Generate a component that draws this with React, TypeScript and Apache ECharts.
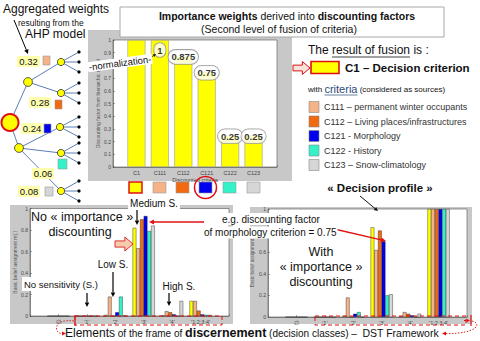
import React, { useEffect, useRef } from "react";
import * as echarts from "echarts";

const FONT = "'Liberation Sans', Arial, Helvetica, sans-serif";

// ---------- top chart: importance weights derived into discounting factors
const criteriaCategories = ["C1", "C111", "C112", "C121", "C122", "C123"];
const discountingFactors = [1, 1, 0.875, 0.75, 0.25, 0.25];
const factorLabels = ["", "1", "0.875", "0.75", "0.25", "0.25"];

// AHP aggregated weights (tree labels)
const ahpWeights = ["0.32", "0.28", "0.24", "0.06", "0.08"];

// ---------- sources / colours
const sourceColors = ["#FFFF00", "#F6B387", "#F26A10", "#0000EE", "#33F2C8", "#D6D6D6"];
const legendLabels = [
  "C111 – permanent winter occupants",
  "C112 – Living places/infrastructures",
  "C121 - Morphology",
  "C122 - History",
  "C123 – Snow-climatology",
];

// ---------- bottom charts: frame of discernement
const frameCategories = ["∅", "'1'", "'2'", "'3'", "'4'", "'1;2;3;4'"];

// No importance discounting (one array per source, one value per frame element)
const noDiscC1 = [0, 0, 0.01, 0.82, 0.005, 0.14];
const noDiscC111 = [0, 0, 0.18, 0.63, 0.045, 0.14];
const noDiscC112 = [0, 0, 0.0, 0.9, 0.035, 0.05];
const noDiscC121 = [0, 0, 0.035, 0.93, 0.015, 0.015];
const noDiscC122 = [0, 0, 0.18, 0.79, 0.0, 0.01];
const noDiscC123 = [0, 0, 0.005, 0.84, 0.14, 0.01];

// With importance discounting
const discC1 = [0, 0, 0.01, 0.83, 0.005, 1];
const discC111 = [0, 0, 0.18, 0.62, 0.045, 1];
const discC112 = [0, 0, 0.0, 0.8, 0.03, 1];
const discC121 = [0, 0, 0.03, 0.7, 0.015, 1];
const discC122 = [0, 0, 0.045, 0.2, 0.0, 1];
const discC123 = [0, 0, 0.0, 0.21, 0.03, 1];

const noDiscSeries = [noDiscC1, noDiscC111, noDiscC112, noDiscC121, noDiscC122, noDiscC123];
const discSeries = [discC1, discC111, discC112, discC121, discC122, discC123];

function textWidth(text: string, font: string): number {
  const ctx = document.createElement("canvas").getContext("2d");
  if (!ctx) return text.length * 6;
  ctx.font = font;
  return ctx.measureText(text).width;
}

function arrow(x1: number, y1: number, x2: number, y2: number, color = "#000", width = 1, head = 4.5): any[] {
  const a = Math.atan2(y2 - y1, x2 - x1);
  const hx = x2 - head * Math.cos(a);
  const hy = y2 - head * Math.sin(a);
  const px = -Math.sin(a) * head * 0.5;
  const py = Math.cos(a) * head * 0.5;
  return [
    { type: "line", z: 120, shape: { x1, y1, x2: hx, y2: hy }, style: { stroke: color, lineWidth: width } },
    { type: "polygon", z: 120, shape: { points: [[x2, y2], [hx + px, hy + py], [hx - px, hy - py]] }, style: { fill: color } },
  ];
}

function blockArrow(x0: number, x1: number, cy: number, h: number, fill: string, stroke: string): any {
  const m = x0 + (x1 - x0) * 0.55;
  return {
    type: "polygon",
    z: 120,
    shape: {
      points: [
        [x0, cy - h * 0.22], [m, cy - h * 0.22], [m, cy - h * 0.5], [x1, cy],
        [m, cy + h * 0.5], [m, cy + h * 0.22], [x0, cy + h * 0.22],
      ],
    },
    style: { fill, stroke, lineWidth: 1 },
  };
}

function txt(text: string, x: number, y: number, size: number, extra: any = {}): any {
  return {
    type: "text",
    z: 130,
    style: {
      text, x, y, fontSize: size, fontFamily: FONT, fill: "#111",
      align: "left", verticalAlign: "middle", ...extra,
    },
  };
}

function rect(x: number, y: number, w: number, h: number, style: any, z = 110): any {
  return { type: "rect", z, shape: { x, y, width: w, height: h }, style };
}

function buildGraphics(): any[] {
  const g: any[] = [];
  // gray panels (MATLAB figure backgrounds)
  g.push(rect(88, 30, 204, 151, { fill: "#C8C8C8" }, -10));
  g.push(rect(10, 205, 223, 119, { fill: "#C8C8C8" }, -10));
  g.push(rect(250, 207, 222, 117, { fill: "#C8C8C8" }, -10));

  // title box
  g.push(rect(120, 7, 324, 30, { fill: "#fff", stroke: "#A8A8A8", lineWidth: 1 }, 105));
  g.push(txt("{b|Importance weights} derived into {b|discounting factors}", 287, 16, 10.5, {
    align: "center",
    rich: { b: { fontWeight: "bold", fontSize: 10.5, fontFamily: FONT, fill: "#111" } },
  }));
  g.push(txt("(Second level of fusion of criteria)", 279, 28.5, 10.5, { align: "center" }));

  // top-left texts
  g.push(txt("Aggregated weights", 3, 9, 12));
  g.push(txt("resulting from the", 18, 23, 8.5));
  g.push(txt("AHP model", 25, 34, 12));
  g.push(...arrow(14, 20, 28, 54, "#000", 1));

  // tree
  const lineStyle = { stroke: "#5C7FB8", lineWidth: 1 };
  const root = [10, 122.5];
  const lvl2 = [[28, 82], [19, 148]];
  const lvl3 = [[61, 62], [61, 93], [60, 127], [61, 153], [61, 191]];
  const parentOf = [0, 0, 1, 1, 1];
  lvl2.forEach((p) => g.push({ type: "line", z: 50, shape: { x1: root[0], y1: root[1], x2: p[0], y2: p[1] }, style: lineStyle }));
  lvl3.forEach((p, i) => {
    const par = lvl2[parentOf[i]];
    g.push({ type: "line", z: 50, shape: { x1: par[0], y1: par[1], x2: p[0], y2: p[1] }, style: lineStyle });
    [-10, 0, 10].forEach((d) => {
      g.push({ type: "line", z: 50, shape: { x1: p[0], y1: p[1], x2: 79, y2: p[1] + d }, style: lineStyle });
      g.push({ type: "circle", z: 52, shape: { cx: 79, cy: p[1] + d, r: 1.6 }, style: { fill: "#000" } });
    });
  });
  lvl3.forEach((p) => g.push({ type: "circle", z: 55, shape: { cx: p[0], cy: p[1], r: 3.6 }, style: { fill: "#FFFF00", stroke: "#333", lineWidth: 0.8 } }));
  lvl2.forEach((p) => g.push({ type: "circle", z: 55, shape: { cx: p[0], cy: p[1], r: 4.4 }, style: { fill: "#FFFF00", stroke: "#333", lineWidth: 0.8 } }));
  g.push({ type: "circle", z: 55, shape: { cx: root[0], cy: root[1], r: 8.5 }, style: { fill: "#FFFF00", stroke: "#E01010", lineWidth: 2 } });

  // weight labels with their colour squares
  const wBoxes = [
    { x: 17, y: 56, w: 23, sq: [43, 56, 7, 9] },
    { x: 29, y: 97, w: 22, sq: [55, 100, 7, 9] },
    { x: 21, y: 123, w: 22, sq: [44, 124, 7, 9] },
    { x: 32, y: 168, w: 22, sq: [58, 159, 9, 10] },
    { x: 18, y: 186, w: 22, sq: [45, 187, 8, 9] },
  ];
  wBoxes.forEach((b, i) => {
    g.push(rect(b.x, b.y, b.w, 11, { fill: "#FFFFB0" }, 60));
    g.push(txt(ahpWeights[i], b.x + b.w / 2, b.y + 5.8, 9.5, { align: "center" }));
    g.push(rect(b.sq[0], b.sq[1], b.sq[2], b.sq[3], { fill: sourceColors[i + 1], stroke: "#999", lineWidth: 0.6 }, 60));
  });

  // normalization
  g.push({
    type: "text", z: 130, x: 120, y: 63, rotation: 0.13,
    style: {
      text: "-normalization-", x: 0, y: 0, fontSize: 9.5, fontFamily: FONT, fill: "#111",
      align: "center", verticalAlign: "middle", backgroundColor: "#fff", padding: [0, 1],
    },
  });
  g.push(...arrow(150, 58, 156, 54, "#111", 0.8, 3));

  // colour squares row below top chart
  const sqX = [129, 153, 176, 199, 223, 247];
  sqX.forEach((x, i) => {
    g.push(rect(x, 182, 13, 11, {
      fill: sourceColors[i],
      stroke: i === 0 ? "#E01010" : "#9a9a9a",
      lineWidth: i === 0 ? 1.5 : 0.6,
    }, 60));
  });
  g.push({ type: "circle", z: 61, shape: { cx: 205.5, cy: 187.5, r: 11 }, style: { fill: "none", stroke: "#E01010", lineWidth: 1.5 } });

  // right panel texts
  const f12 = `12px ${FONT}`;
  const rx = 308;
  g.push(txt("The {u|result of fusion} is :", rx, 50, 12, { rich: { u: { fontSize: 12, fontFamily: FONT, fill: "#111" } } }));
  const ux0 = rx + textWidth("The ", f12);
  const ux1 = ux0 + textWidth("result of fusion", f12);
  g.push({ type: "line", z: 130, shape: { x1: ux0, y1: 57, x2: ux1, y2: 57 }, style: { stroke: "#111", lineWidth: 0.8 } });
  g.push(blockArrow(293, 310, 68, 13, "#F6E4DC", "#E01010"));
  g.push(rect(311, 61.5, 28, 12, { fill: "#FFFF00", stroke: "#E01010", lineWidth: 1.6 }, 120));
  g.push(txt("C1 – Decision criterion", 345, 67.5, 11.5, { fontWeight: "bold" }));
  g.push(txt("with {c|criteria} (considered as sources)", rx, 89, 8, {
    rich: { c: { fontSize: 11, fontFamily: FONT, fill: "#2A4A7A" } },
  }));
  const cx0 = rx + textWidth("with ", `8px ${FONT}`);
  const cx1 = cx0 + textWidth("criteria", `11px ${FONT}`);
  g.push({ type: "line", z: 130, shape: { x1: cx0, y1: 95, x2: cx1, y2: 95 }, style: { stroke: "#2A4A7A", lineWidth: 0.7 } });
  const legY = [107, 121.5, 136, 150.5, 165];
  legendLabels.forEach((l, i) => {
    g.push(rect(309, legY[i] - 5.5, 10, 11, { fill: sourceColors[i + 1], stroke: "#888", lineWidth: 0.6 }, 120));
    g.push(txt(l, 324, legY[i], 9, { fill: "#333" }));
  });
  g.push(txt("« Decision profile »", 380, 188, 11.5, { fontWeight: "bold", align: "center" }));
  g.push(...arrow(360, 196, 378, 211, "#111", 1, 4));

  // bottom-left annotations
  g.push(txt("No « importance »", 31, 217, 12.5));
  g.push(txt("discounting", 80, 232, 12.5, { align: "center" }));
  g.push(txt("Medium S.", 154, 203.5, 10, { align: "center", backgroundColor: "#fff", padding: [1, 2] }));
  g.push(...arrow(137, 210, 137, 225, "#000", 1.2, 4.5));
  g.push(blockArrow(115, 133, 244, 14, "#F8CBAD", "#E03030"));
  g.push(txt("Low S.", 113, 264, 10, { align: "center" }));
  g.push(...arrow(113, 272, 113, 297, "#000", 1.2, 4.5));
  g.push(txt("No sensitivity (S.)", 22, 284, 9.5, { backgroundColor: "#fff", padding: [2, 2] }));
  g.push(...arrow(87, 293, 87, 307, "#000", 1.2, 4.5));
  g.push(txt("High S.", 179, 286, 10, { align: "center" }));
  g.push(...arrow(169, 293, 169, 306, "#000", 1.2, 4.5));

  // e.g. discounting factor annotation
  g.push(txt("e.g. discounting factor", 221, 219, 10, { backgroundColor: "#fff", padding: [1, 1] }));
  g.push(txt("of morphology criterion = 0.75", 203, 232.5, 10, { backgroundColor: "#fff", padding: [1, 1] }));
  g.push(...arrow(204, 222, 149, 222, "#E01010", 1.3, 5));
  g.push(...arrow(330, 228, 386, 241, "#E01010", 1.3, 5));

  // bottom-right annotation
  g.push(txt("With", 321, 252, 12.5, { align: "center" }));
  g.push(txt("« importance »", 321, 267, 12.5, { align: "center" }));
  g.push(txt("discounting", 321, 282, 12.5, { align: "center" }));

  // dashed frames around the frame elements
  const dash = { fill: "none", stroke: "#E01010", lineWidth: 1, lineDash: [4, 3] };
  g.push(rect(75, 316, 147, 9, dash, 125));
  g.push(rect(315, 316, 151, 9, dash, 125));
  g.push({ type: "line", z: 125, shape: { x1: 75, y1: 315, x2: 75, y2: 326 }, style: { stroke: "#E01010", lineWidth: 1.2 } });
  g.push({ type: "line", z: 125, shape: { x1: 471, y1: 315, x2: 471, y2: 326 }, style: { stroke: "#E01010", lineWidth: 1.2 } });
  g.push(...arrow(464, 320.5, 470, 320.5, "#E01010", 1, 3.5));
  const dotted = { fill: "none", stroke: "#E01010", lineWidth: 0.9, lineDash: [1.5, 1.5] };
  g.push({ type: "bezierCurve", z: 125, shape: { x1: 74, y1: 321, cpx1: 52, cpy1: 318, cpx2: 54, cpy2: 334, x2: 62, y2: 333.5 }, style: dotted });
  g.push({ type: "polygon", z: 125, shape: { points: [[66, 333.5], [62, 331.5], [62, 335.5]] }, style: { fill: "#E01010" } });
  g.push({ type: "bezierCurve", z: 125, shape: { x1: 472, y1: 321, cpx1: 482, cpy1: 323, cpx2: 478, cpy2: 334, x2: 446, y2: 333.5 }, style: dotted });
  g.push({ type: "polygon", z: 125, shape: { points: [[442, 333.5], [446, 331.5], [446, 335.5]] }, style: { fill: "#E01010" } });

  // bottom caption
  g.push(txt("{a|Elements} {b|of the frame of} {c|discernement} {b|(decision classes) –}  {d|DST Framework}", 65, 333, 10, {
    rich: {
      a: { fontSize: 12, fontFamily: FONT, fill: "#111" },
      b: { fontSize: 10, fontFamily: FONT, fill: "#111" },
      c: { fontSize: 12.5, fontWeight: "bold", fontFamily: FONT, fill: "#111" },
      d: { fontSize: 10.5, fontFamily: FONT, fill: "#111" },
    },
  }));
  return g;
}

function xAxis(gi: number, cats: string[], name?: string): any {
  return {
    type: "value", gridIndex: gi, min: 0, max: 7, interval: 1,
    axisLine: { show: true, lineStyle: { color: "#555", width: 0.6 } },
    axisTick: { show: true, inside: true, length: 2, lineStyle: { color: "#555", width: 0.5 } },
    axisLabel: {
      fontSize: 5.5, color: "#444", margin: 3, fontFamily: FONT,
      formatter: (v: number) => cats[Math.round(v) - 1] ?? "",
    },
    splitLine: { show: false },
    name, nameLocation: "middle", nameGap: 10,
    nameTextStyle: { fontSize: 5.5, color: "#444", fontFamily: FONT },
  };
}

function yAxis(gi: number, interval: number, name: string, nameSize = 5, hidden: number[] = []): any {
  return {
    type: "value", gridIndex: gi, min: 0, max: 1, interval,
    axisLine: { show: true, lineStyle: { color: "#555", width: 0.6 } },
    axisTick: { show: true, inside: true, length: 2, lineStyle: { color: "#555", width: 0.5 } },
    axisLabel: {
      fontSize: 5, color: "#444", margin: 2, fontFamily: FONT,
      // labels hidden behind the annotation box in the original figure
      formatter: (v: number) => (hidden.some((h) => Math.abs(h - v) < 1e-6) ? "" : String(+v.toFixed(2))),
    },
    splitLine: { show: false },
    name, nameLocation: "middle", nameGap: 10,
    nameTextStyle: { fontSize: nameSize, color: "#555", fontFamily: FONT },
  };
}

export default function App() {
  const ref = useRef<HTMLDivElement>(null);
  useEffect(() => {
    if (!ref.current) return;
    const chart = echarts.init(ref.current, null, { renderer: "svg" });
    const gridBase = { show: true, backgroundColor: "#fff", borderColor: "#555", borderWidth: 0.6 };
    const bottomSeries = (arrs: number[][], axisIdx: number) =>
      arrs.map((arr, si) => ({
        type: "bar",
        xAxisIndex: axisIdx,
        yAxisIndex: axisIdx,
        barGap: "0%",
        barCategoryGap: "22%",
        itemStyle: { color: sourceColors[si], borderColor: "#222", borderWidth: 0.4 },
        data: arr.map((v, i) => [i + 1, v]),
      }));
    const option: any = {
      animation: false,
      textStyle: { fontFamily: FONT },
      grid: [
        { ...gridBase, left: 113, top: 40, width: 164, height: 127 },
        { ...gridBase, left: 30, top: 208.5, width: 199, height: 107.5 },
        { ...gridBase, left: 268, top: 209, width: 199, height: 108 },
      ],
      xAxis: [
        xAxis(0, criteriaCategories, "Discounted criteria"),
        xAxis(1, frameCategories),
        xAxis(2, frameCategories),
      ],
      yAxis: [
        yAxis(0, 0.1, "Discounting factor from hierarchic model"),
        yAxis(1, 0.2, "Basic belief assignment m(.)"),
        yAxis(2, 0.2, "Basic belief assignment", 4.6, [0.8]),
      ],
      series: [
        {
          type: "bar",
          xAxisIndex: 0,
          yAxisIndex: 0,
          barWidth: 18,
          itemStyle: { color: "#FFFF00", borderColor: "#9a9a9a", borderWidth: 0.6 },
          data: discountingFactors.map((v, i) => [i + 1, v]),
        },
        {
          type: "scatter",
          xAxisIndex: 0,
          yAxisIndex: 0,
          clip: false,
          symbolSize: 1,
          itemStyle: { color: "rgba(0,0,0,0)" },
          z: 5,
          label: {
            show: true, position: "inside", fontSize: 9.5, fontWeight: "bold", color: "#000",
            backgroundColor: "#fff", borderColor: "#8a8a8a", borderWidth: 0.8, borderRadius: 8,
            padding: [2, 3], fontFamily: FONT,
          },
          data: discountingFactors.map((v, i) => ({
            value: [i + 1, v],
            label: {
              show: factorLabels[i] !== "",
              formatter: factorLabels[i],
              offset: [0, v >= 1 ? 10 : 1],
            },
          })),
        },
        ...bottomSeries(noDiscSeries, 1),
        ...bottomSeries(discSeries, 2),
      ],
      graphic: { elements: buildGraphics() },
    };
    chart.setOption(option);
    return () => chart.dispose();
  }, []);
  return (
    <div
      ref={ref}
      style={{ position: "absolute", left: 0, top: 0, width: 480, height: 341, background: "#fff" }}
    />
  );
}
